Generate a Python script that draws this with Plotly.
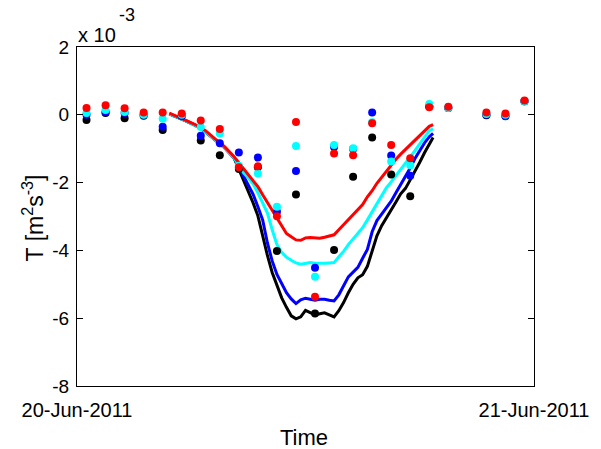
import plotly.graph_objects as go

# ---- data (values in units of 10^-3 m^2 s^-3, time in hours after 20-Jun-2011 00:00) ----
dot_hours = [0.5, 1.5, 2.5, 3.5, 4.5, 5.5, 6.5, 7.5, 8.5, 9.5, 10.5, 11.5, 12.5,
             13.5, 14.5, 15.5, 16.5, 17.5, 18.5, 19.5, 21.5, 22.5, 23.5]
dots_black = [-0.15, 0.05, -0.10, -0.03, -0.45, -0.03, -0.76, -1.19, -1.60, -1.55, -4.02, -2.35, -5.86,
              -3.99, -1.83, -0.67, -1.76, -2.40, 0.25, 0.20, -0.01, -0.03, 0.40]
dots_blue = [0.00, 0.08, 0.05, 0.00, -0.35, -0.02, -0.62, -0.84, -1.11, -1.26, -2.86, -1.66, -4.51,
             -0.95, -1.01, 0.07, -1.20, -1.80, 0.25, 0.20, 0.00, -0.04, 0.40]
dots_cyan = [0.05, 0.14, 0.08, 0.00, -0.12, 0.00, -0.36, -0.55, -1.50, -1.73, -2.71, -0.92, -4.78,
             -0.89, -0.99, -0.22, -1.38, -1.49, 0.32, 0.20, 0.02, 0.00, 0.40]
dots_red = [0.20, 0.28, 0.19, 0.07, 0.07, 0.04, -0.17, -0.42, -1.55, -1.52, -2.99, -0.21, -5.37,
            -1.14, -1.19, -0.25, -0.89, -1.28, 0.22, 0.24, 0.07, 0.04, 0.42]

line_hours = [4.85, 5.25, 5.75, 6.25, 6.75, 7.25, 7.75, 8.25, 8.75, 9.0, 9.25, 9.5, 9.75,
              10.0, 10.25, 10.5, 10.75, 11.0, 11.25, 11.5, 11.75, 12.0, 12.25, 12.5, 12.75,
              13.0, 13.25, 13.5, 13.75, 14.0, 14.25, 14.5, 14.75, 15.0, 15.25, 15.5, 15.75,
              16.0, 16.25, 16.5, 16.75, 17.0, 17.25, 17.5, 17.75, 18.0, 18.25, 18.5, 18.7]
line_black = [0.03, -0.06, -0.19, -0.32, -0.50, -0.74, -0.97, -1.27, -1.95, -2.24, -2.60, -2.98, -3.59,
              -4.15, -4.65, -5.01, -5.40, -5.68, -5.93, -6.02, -5.96, -5.77, -5.84, -5.90, -5.87,
              -5.84, -5.90, -5.96, -5.78, -5.54, -5.25, -5.00, -4.81, -4.72, -4.47, -4.03, -3.57,
              -3.27, -3.05, -2.79, -2.57, -2.33, -2.17, -1.92, -1.67, -1.40, -1.12, -0.87, -0.67]
line_blue = [0.03, -0.06, -0.19, -0.32, -0.50, -0.74, -0.97, -1.27, -1.80, -2.04, -2.35, -2.71, -3.10,
             -3.78, -4.31, -4.71, -5.00, -5.25, -5.43, -5.57, -5.46, -5.41, -5.44, -5.47, -5.44,
             -5.44, -5.47, -5.49, -5.31, -5.04, -4.78, -4.64, -4.50, -4.23, -3.97, -3.45, -3.12,
             -2.93, -2.74, -2.55, -2.30, -2.07, -1.84, -1.57, -1.29, -1.04, -0.83, -0.65, -0.55]
line_cyan = [0.03, -0.06, -0.19, -0.32, -0.50, -0.74, -0.97, -1.27, -1.71, -1.86, -2.04, -2.30, -2.59,
             -2.90, -3.39, -3.83, -4.06, -4.20, -4.29, -4.37, -4.41, -4.38, -4.36, -4.38, -4.39,
             -4.38, -4.37, -4.36, -4.19, -4.03, -3.83, -3.66, -3.51, -3.33, -3.10, -2.87, -2.64,
             -2.39, -2.15, -1.98, -1.80, -1.62, -1.45, -1.27, -1.06, -0.86, -0.65, -0.47, -0.41]
line_red = [0.05, -0.04, -0.17, -0.30, -0.47, -0.71, -0.94, -1.24, -1.59, -1.77, -1.92, -2.12, -2.36,
            -2.59, -2.82, -3.06, -3.30, -3.50, -3.60, -3.69, -3.70, -3.63, -3.62, -3.63, -3.64,
            -3.61, -3.58, -3.54, -3.39, -3.24, -3.07, -2.92, -2.77, -2.65, -2.42, -2.24, -2.02,
            -1.84, -1.66, -1.49, -1.31, -1.16, -1.02, -0.88, -0.73, -0.59, -0.45, -0.34, -0.29]

x_tick_vals = [0, 24]
x_tick_text = ["20-Jun-2011", "21-Jun-2011"]
y_tick_vals = [-8, -6, -4, -2, 0, 2]

colors = {"black": "#000000", "blue": "#0000FF", "cyan": "#00FFFF", "red": "#FF0000"}

fig = go.Figure()
lines = [("black", line_black), ("blue", line_blue), ("cyan", line_cyan), ("red", line_red)]
dots = [("black", dots_black), ("blue", dots_blue), ("cyan", dots_cyan), ("red", dots_red)]
for name, ys in lines:
    fig.add_trace(go.Scatter(x=line_hours, y=ys, mode="lines",
                             line=dict(color=colors[name], width=3), showlegend=False,
                             hoverinfo="skip"))
for name, ys in dots:
    fig.add_trace(go.Scatter(x=dot_hours, y=ys, mode="markers",
                             marker=dict(color=colors[name], size=8, line=dict(width=0)),
                             showlegend=False, hoverinfo="skip"))

FONT = "Liberation Sans"
axis_common = dict(showgrid=False, zeroline=False, showline=True, linecolor="black",
                   linewidth=1, mirror="ticks", ticks="inside", ticklen=6,
                   tickcolor="black")
fig.update_xaxes(range=[0, 24], tickmode="array", tickvals=x_tick_vals,
                 ticktext=x_tick_text, ticklabelstandoff=6,
                 tickfont=dict(family=FONT, size=20, color="black"), **axis_common)
fig.update_yaxes(range=[-8, 2], tickmode="array", tickvals=y_tick_vals,
                 ticktext=[str(v) for v in y_tick_vals], ticklabelstandoff=3,
                 tickfont=dict(family=FONT, size=19, color="black"), **axis_common)

L, R, T, B = 77, 538, 47, 386
W, H = 601, 449

def px(xp):
    return (xp - L) / (R - L)

def py(yp):
    return (B - yp) / (B - T)

annots = [
    dict(text="x 10", x=px(76), y=py(35), xanchor="left", yanchor="middle",
         font=dict(family=FONT, size=20, color="black")),
    dict(text="-3", x=px(117), y=py(15), xanchor="left", yanchor="middle",
         font=dict(family=FONT, size=18, color="black")),
    dict(text="T [m<sup>2</sup>s<sup>-3</sup>]", x=px(33), y=py(218), textangle=-90,
         xanchor="center", yanchor="middle", font=dict(family=FONT, size=23, color="black")),
    dict(text="Time", x=px(306), y=py(437), xanchor="center", yanchor="middle",
         font=dict(family=FONT, size=22, color="black")),
]
for a in annots:
    a.update(xref="paper", yref="paper", showarrow=False)

fig.update_layout(width=W, height=H, margin=dict(l=L, r=W - R, t=T, b=H - B, pad=0),
                  plot_bgcolor="white", paper_bgcolor="white", annotations=annots,
                  font=dict(family=FONT, size=18, color="black"))

fig.write_html("out.html")
